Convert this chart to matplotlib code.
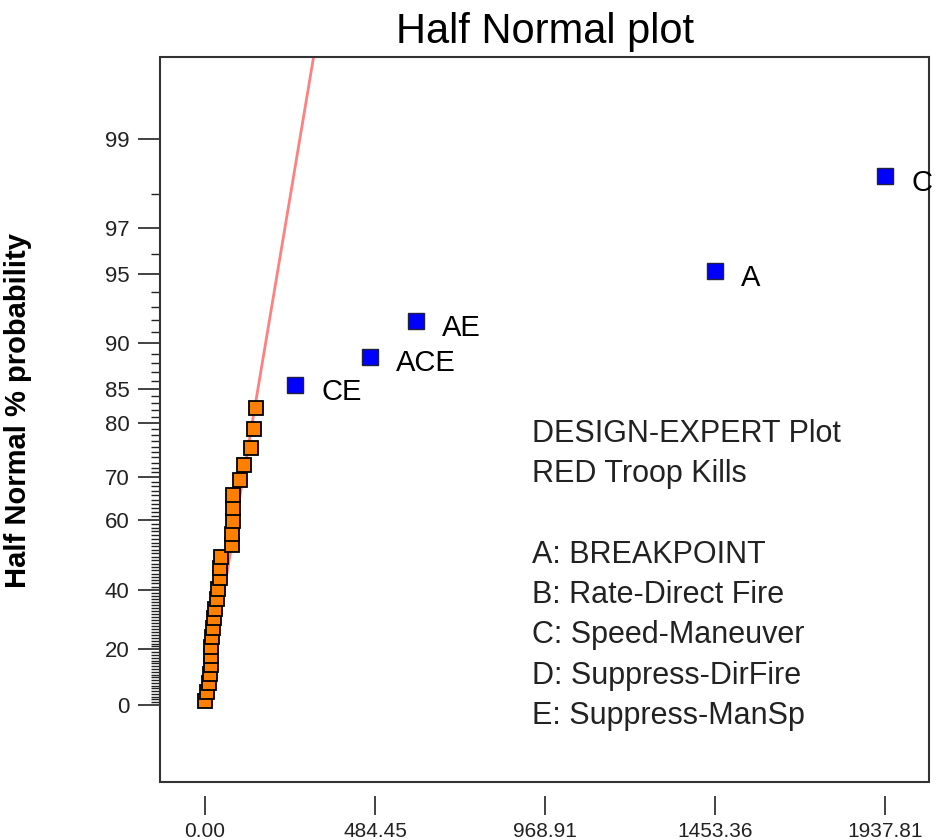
import math
import numpy as np
import matplotlib
matplotlib.use("Agg")
import matplotlib.pyplot as plt
from matplotlib.patches import Rectangle
from matplotlib.ticker import FixedLocator, FixedFormatter, NullFormatter

plt.rcParams['font.family'] = ['Liberation Sans', 'DejaVu Sans']

# efectos pequenos (sobre la recta)
efectos_error = [1.0, 6.5, 10.5, 15.0, 17.0, 17.5, 18.5, 21.0, 23.0, 25.5, 29.5, 34.0, 37.0,
                 42.0, 43.0, 46.0, 76.0, 78.0, 79.0, 79.5, 81.0, 100.0, 110.0, 132.0, 140.5, 144.5]
prob_error = [1.61, 4.84, 8.06, 11.29, 14.52, 17.74, 20.97, 24.19, 27.42, 30.65, 33.87, 37.10, 40.32,
              43.55, 46.77, 50.00, 53.23, 56.45, 59.68, 62.90, 66.13, 69.35, 72.58, 75.81, 79.03, 82.26]

# efectos significativos
nombres = ["CE", "ACE", "AE", "A", "C"]
efectos = [256.5, 469.0, 600.4, 1452.0, 1937.81]
prob = [85.48, 88.71, 91.94, 95.16, 98.39]

# recta de referencia
linea_efecto = [0.0, 324.5]
linea_prob = [0.0, 99.8]

ticks_x = [0.00, 484.45, 968.91, 1453.36, 1937.81]
ticks_y = [0, 20, 40, 60, 70, 80, 85, 90, 95, 97, 99]

texto = ["DESIGN-EXPERT Plot", "RED Troop Kills", "",
         "A: BREAKPOINT", "B: Rate-Direct Fire", "C: Speed-Maneuver",
         "D: Suppress-DirFire", "E: Suppress-ManSp"]

# escala half normal: p (%) -> z
_z = np.linspace(-6, 6, 4001)
_p = 100 * np.array([math.erf(v / math.sqrt(2)) for v in _z])


def a_z(p):
    return np.interp(p, _p, _z)


def a_p(z):
    return np.interp(z, _z, _p)


W, H = 938, 840
fig = plt.figure(figsize=(W / 100, H / 100), dpi=100)
ax = fig.add_axes([160 / W, 1 - 782 / H, (929 - 160) / W, (782 - 57) / H])

ax.set_yscale('function', functions=(a_z, a_p))
ax.set_ylim(-27.4, 99.68)
ax.set_xlim(-128, 2063)

ax.plot(linea_efecto, linea_prob, color='#ff8080', lw=2, zorder=2)
ax.plot(efectos_error, prob_error, 's', ms=10.5, mfc='#ff8000', mec='black', mew=1.3, zorder=3)
ax.plot(efectos, prob, 's', ms=11, mfc='#0000ff', mec='#202040', mew=1.0, zorder=3)
for n, x, y in zip(nombres, efectos, prob):
    ax.annotate(n, (x, y), xytext=(19, -5), textcoords='offset points',
                ha='left', va='center', fontsize=21, color='black')

ax.yaxis.set_major_locator(FixedLocator(ticks_y))
ax.yaxis.set_minor_locator(FixedLocator([v for v in range(1, 99) if v not in ticks_y]))
ax.yaxis.set_major_formatter(FixedFormatter([str(v) for v in ticks_y]))
ax.yaxis.set_minor_formatter(NullFormatter())
ax.set_xticks(ticks_x)
ax.set_xticklabels([f"{v:.2f}" for v in ticks_x])

for s in ax.spines.values():
    s.set_visible(False)
ax.spines['bottom'].set_position(('outward', 10))
ax.add_patch(Rectangle((0, 0), 1, 1, transform=ax.transAxes, fill=False,
                       lw=1.5, ec='#333333', clip_on=False, zorder=2.5))

ax.tick_params(axis='y', which='major', length=16, width=1.2, pad=6, labelsize=16, colors='#222222')
ax.tick_params(axis='y', which='minor', length=6.5, width=1.0, colors='#222222')
ax.tick_params(axis='x', length=14, width=1.2, pad=5, labelsize=15, colors='#222222')

ax.set_title("Half Normal plot", fontsize=30, pad=10)
fig.text(18 / W, 1 - 410 / H, "Half Normal % probability", rotation=90,
         fontweight='bold', fontsize=21, ha='center', va='center')

for k, linea in enumerate(texto):
    fig.text(532 / W, 1 - (434 + 40.3 * k) / H, linea, fontsize=22, ha='left', va='center', color='#222222')

fig.savefig("out.png", dpi=100)
